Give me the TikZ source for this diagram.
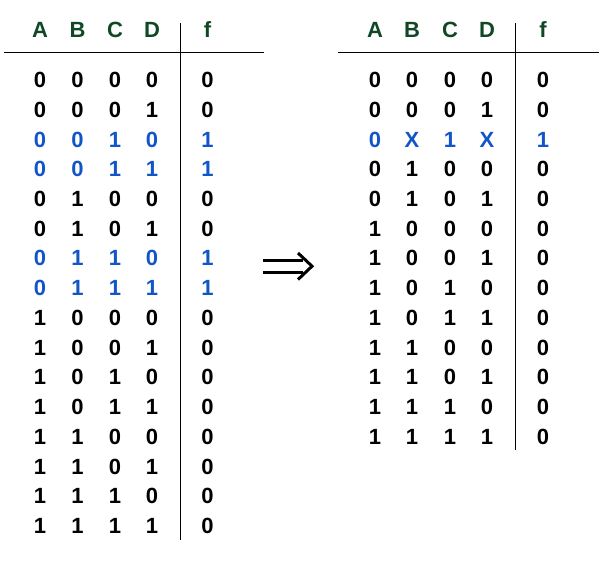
\documentclass[tikz,border=0pt]{standalone}
\usepackage{fontspec}
\setmainfont{Liberation Sans}
\definecolor{hdgreen}{RGB}{16,72,38}
\definecolor{rowblue}{RGB}{17,85,200}
\begin{document}
\begin{tikzpicture}[x=1pt,y=-1pt,
  cell/.style={font=\fontsize{22}{22}\selectfont\bfseries, inner sep=0pt, anchor=center},
  hdr/.style={cell, text=hdgreen},
  hl/.style={cell, text=rowblue},
  rule/.style={line width=1.3pt, black},
  arrline/.style={line width=3pt, black}]
\useasboundingbox (0,0) rectangle (612,565);
% left table
\def\lx{{40,77.5,115,152,207.5}}
\foreach \t [count=\i from 0] in {A,B,C,D,f}{
  \pgfmathsetmacro{\xx}{\lx[\i]}
  \node[hdr] (lh\i) at (\xx,30) {\t};
}
\foreach \r [count=\k from 0] in {
  0/0/0/0/0/cell, 0/0/0/1/0/cell, 0/0/1/0/1/hl, 0/0/1/1/1/hl,
  0/1/0/0/0/cell, 0/1/0/1/0/cell, 0/1/1/0/1/hl, 0/1/1/1/1/hl,
  1/0/0/0/0/cell, 1/0/0/1/0/cell, 1/0/1/0/0/cell, 1/0/1/1/0/cell,
  1/1/0/0/0/cell, 1/1/0/1/0/cell, 1/1/1/0/0/cell, 1/1/1/1/0/cell}{
  \foreach \a/\b/\c/\d/\f/\s in \r {
    \pgfmathsetmacro{\yy}{80+\k*29.73}
    \node[\s] (la\k) at (40,\yy) {\a};
    \node[\s] (lb\k) at (77.5,\yy) {\b};
    \node[\s] (lc\k) at (115,\yy) {\c};
    \node[\s] (ld\k) at (152,\yy) {\d};
    \node[\s] (lf\k) at (207.5,\yy) {\f};
  }
}
\coordinate (lhl1) at (3.5,52.7);
\coordinate (lhl2) at (264,52.7);
\coordinate (lvl1) at (180.7,23.3);
\coordinate (lvl2) at (180.7,540);
\draw[rule] (lhl1) -- (lhl2);
\draw[rule] (lvl1) -- (lvl2);
% arrow (double arrow symbol)
\coordinate (arrA1) at (263,260);
\coordinate (arrA2) at (303,260);
\coordinate (arrB1) at (263,272.5);
\coordinate (arrB2) at (303,272.5);
\coordinate (arrT1) at (298,253);
\coordinate (arrTip) at (312,266.2);
\coordinate (arrT2) at (298,279.5);
\draw[arrline] (arrA1) -- (arrA2);
\draw[arrline] (arrB1) -- (arrB2);
\draw[arrline, line join=miter] (arrT1) -- (arrTip) -- (arrT2);
% right table
\def\rx{{375,412,450,487,543}}
\foreach \t [count=\i from 0] in {A,B,C,D,f}{
  \pgfmathsetmacro{\xx}{\rx[\i]}
  \node[hdr] (rh\i) at (\xx,30) {\t};
}
\foreach \r [count=\k from 0] in {
  0/0/0/0/0/cell, 0/0/0/1/0/cell, 0/X/1/X/1/hl,
  0/1/0/0/0/cell, 0/1/0/1/0/cell, 1/0/0/0/0/cell, 1/0/0/1/0/cell,
  1/0/1/0/0/cell, 1/0/1/1/0/cell, 1/1/0/0/0/cell, 1/1/0/1/0/cell,
  1/1/1/0/0/cell, 1/1/1/1/0/cell}{
  \foreach \a/\b/\c/\d/\f/\s in \r {
    \pgfmathsetmacro{\yy}{80+\k*29.73}
    \node[\s] (ra\k) at (375,\yy) {\a};
    \node[\s] (rb\k) at (412,\yy) {\b};
    \node[\s] (rc\k) at (450,\yy) {\c};
    \node[\s] (rd\k) at (487,\yy) {\d};
    \node[\s] (rf\k) at (543,\yy) {\f};
  }
}
\coordinate (rhl1) at (338,52.7);
\coordinate (rhl2) at (599,52.7);
\coordinate (rvl1) at (515.7,23.3);
\coordinate (rvl2) at (515.7,450);
\draw[rule] (rhl1) -- (rhl2);
\draw[rule] (rvl1) -- (rvl2);
\end{tikzpicture}
\end{document}
